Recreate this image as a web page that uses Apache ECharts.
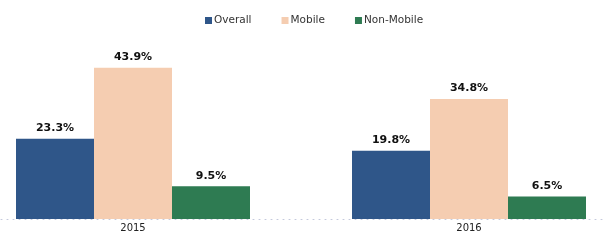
<!DOCTYPE html>
<html><head><meta charset="utf-8">
<script src="https://cdn.jsdelivr.net/npm/echarts@6/dist/echarts.min.js"></script>
<style>html,body{margin:0;padding:0;background:#fff}#c{width:603px;height:245px}</style>
</head><body><div id="c"></div>
<script>
const categories = ['2015', '2016'];
const overall = [23.3, 19.8];
const mobile = [43.9, 34.8];
const nonMobile = [9.5, 6.5];
const seriesNames = ['Overall', 'Mobile', 'Non-Mobile'];

const chart = echarts.init(document.getElementById('c'));
const font = 'DejaVu Sans, Verdana, sans-serif';
const lbl = {show: true, position: 'top', distance: 5, formatter: p => p.value.toFixed(1) + '%',
  fontFamily: font, fontSize: 11, fontWeight: 'bold', color: '#111'};
chart.setOption({
  animation: false,
  legend: {top: 10, left: 200, itemWidth: 7, itemHeight: 7, itemGap: 30, icon: 'rect',
    textStyle: {fontFamily: font, fontSize: 10.5, color: '#333', padding: [0, 0, 0, -3]},
    data: seriesNames},
  grid: {left: -35, right: -34, top: 46.6, bottom: 26, outerBoundsMode: 'none', containLabel: false},
  xAxis: {type: 'category', data: categories,
    axisLine: {lineStyle: {color: '#c4c9dc', type: [1, 5], width: 1}},
    axisTick: {show: false},
    axisLabel: {fontFamily: font, fontSize: 10, color: '#222', margin: 4}},
  yAxis: {type: 'value', min: 0, max: 50, show: false, splitLine: {show: false}},
  series: [
    {name: seriesNames[0], type: 'bar', data: overall, barWidth: 78, barGap: 0, itemStyle: {color: '#2f5689'}, label: lbl},
    {name: seriesNames[1], type: 'bar', data: mobile, barWidth: 78, barGap: 0, itemStyle: {color: '#f5cdb1'}, label: lbl},
    {name: seriesNames[2], type: 'bar', data: nonMobile, barWidth: 78, barGap: 0, itemStyle: {color: '#2e7b52'}, label: lbl}
  ]
});
</script></body></html>
